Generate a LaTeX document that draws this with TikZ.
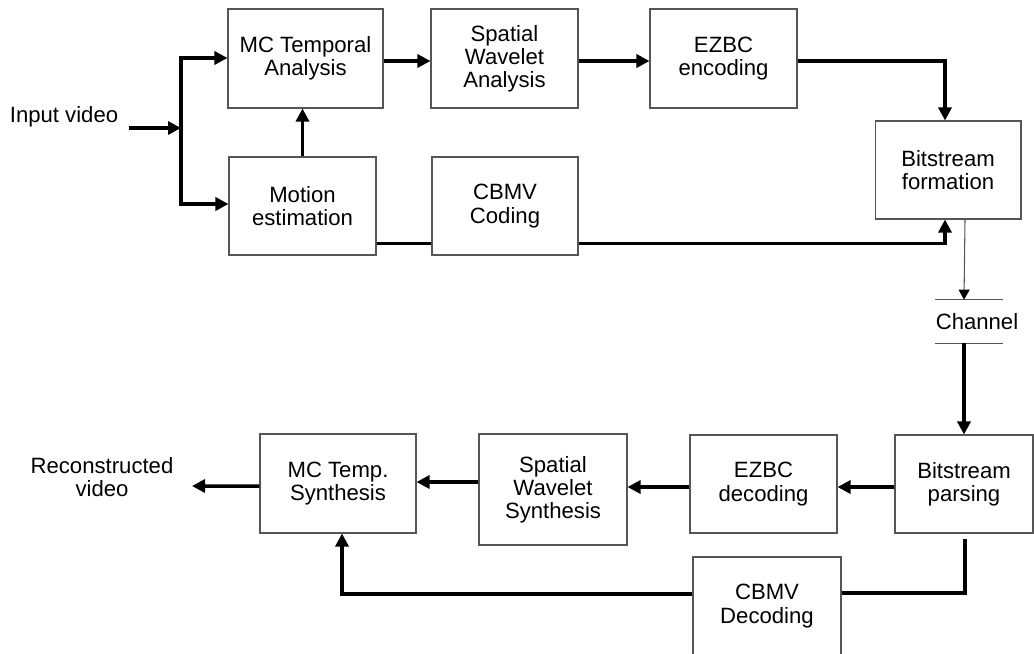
\documentclass[tikz,border=0pt]{standalone}
\usepackage{fontspec}
\setmainfont{Liberation Sans}
\usetikzlibrary{arrows.meta,calc}
\definecolor{boxgray}{HTML}{555555}
\begin{document}
\begin{tikzpicture}[x=0.02cm,y=-0.02cm,
  lbl/.style={align=center, inner sep=0pt, font=\fontsize{12.6}{13.2}\selectfont},
  box/.style={lbl, draw=boxgray, line width=0.6pt, fill=white},
  ln/.style={line width=2pt},
  arr/.style={ln, -{Triangle[length=0.26cm,width=0.26cm]}},
  thinln/.style={draw=boxgray, line width=0.6pt},
  thinarr/.style={thinln, -{Triangle[length=0.2cm,width=0.22cm,color=black]}}]
\useasboundingbox (0,0) rectangle (1034,653);
\clip (0,0) rectangle (1034,653);
% boxes
\node[box, minimum width=3.10cm, minimum height=1.98cm] (mcta) at (305.5,58.5) {MC Temporal\\Analysis};
\node[box, minimum width=2.94cm, minimum height=1.98cm] (swa) at (504.5,58.5) {Spatial\\Wavelet\\Analysis};
\node[box, minimum width=2.94cm, minimum height=1.98cm] (ezbce) at (723.5,58.5) {EZBC\\encoding};
\node[box, minimum width=2.94cm, minimum height=1.96cm] (me) at (302.5,206) {Motion\\estimation};
\node[box, minimum width=2.92cm, minimum height=1.96cm] (cbmvc) at (505,206) {CBMV\\Coding};
\node[box, minimum width=2.92cm, minimum height=1.96cm] (bsf) at (948,170) {Bitstream\\formation};
\node[box, minimum width=2.76cm, minimum height=1.96cm] (bsp) at (964,484) {Bitstream\\parsing};
\node[box, minimum width=2.94cm, minimum height=1.96cm] (ezbcd) at (763.5,484) {EZBC\\decoding};
\node[box, minimum width=2.96cm, minimum height=2.22cm] (sws) at (553,489.5) {Spatial\\Wavelet\\Synthesis};
\node[box, minimum width=3.12cm, minimum height=1.98cm] (mcts) at (338,483.5) {MC Temp.\\Synthesis};
\node[box, minimum width=2.96cm, minimum height=1.96cm] (cbmvd) at (767,606) {CBMV\\Decoding};
% texts
\node[lbl] (in) at (64,117) {Input video};
\node[lbl, minimum height=0.86cm] (ch) at (977,321.5) {Channel};
\node[lbl] (rv) at (102,477) {Reconstructed\\video};
\coordinate (inS) at (129,128);
\coordinate (split) at (181,128);
\coordinate (sT) at (181,58);
\coordinate (sB) at (181,204);
\coordinate (out) at (192,486);
% connectors (encoder)
\draw[arr] (inS) -- (split);
\draw[arr] (sB) |- (sT -| mcta.west);
\draw[arr] (sT) |- (sB -| me.west);
\draw[arr] (me.north) -- (me.north |- mcta.south);
\draw[arr] ($(mcta.east)+(0,2.5)$) -- ($(swa.west)+(0,2.5)$);
\draw[arr] ($(swa.east)+(0,2.5)$) -- ($(ezbce.west)+(0,2.5)$);
\draw[arr] ($(ezbce.east)+(0,2.5)$) -| ($(bsf.north)+(-3,0)$);
\draw[ln] ($(me.south east)+(0,-12)$) -- ($(cbmvc.south west)+(0,-12)$);
\draw[arr] ($(cbmvc.south east)+(0,-12)$) -| ($(bsf.south)+(-3,0)$);
% channel
\draw[thinln] ($(ch.north)+(-42,0)$) -- ++(68,0);
\draw[thinln] ($(ch.south)+(-42,0)$) -- ++(68,0);
\draw[thinarr] ($(bsf.south)+(17,0)$) -- (ch.north -| bsp.north);
\draw[arr] (ch.south -| bsp.north) -- (bsp.north);
% decoder
\draw[arr] ($(bsp.west)+(0,3)$) -- ($(ezbcd.east)+(0,3)$);
\draw[arr] ($(ezbcd.west)+(0,3)$) -- ($(sws.east)+(0,-2.5)$);
\draw[arr] ($(sws.west)+(0,-7.5)$) -- ($(mcts.east)+(0,-1.5)$);
\draw[arr] ($(mcts.west)+(0,2.5)$) -- (out);
\draw[ln] ($(bsp.south)+(1,5)$) |- ($(cbmvd.east)+(0,-13)$);
\draw[arr] ($(cbmvd.west)+(0,-12)$) -| ($(mcts.south)+(4,0)$);
\end{tikzpicture}
\end{document}
